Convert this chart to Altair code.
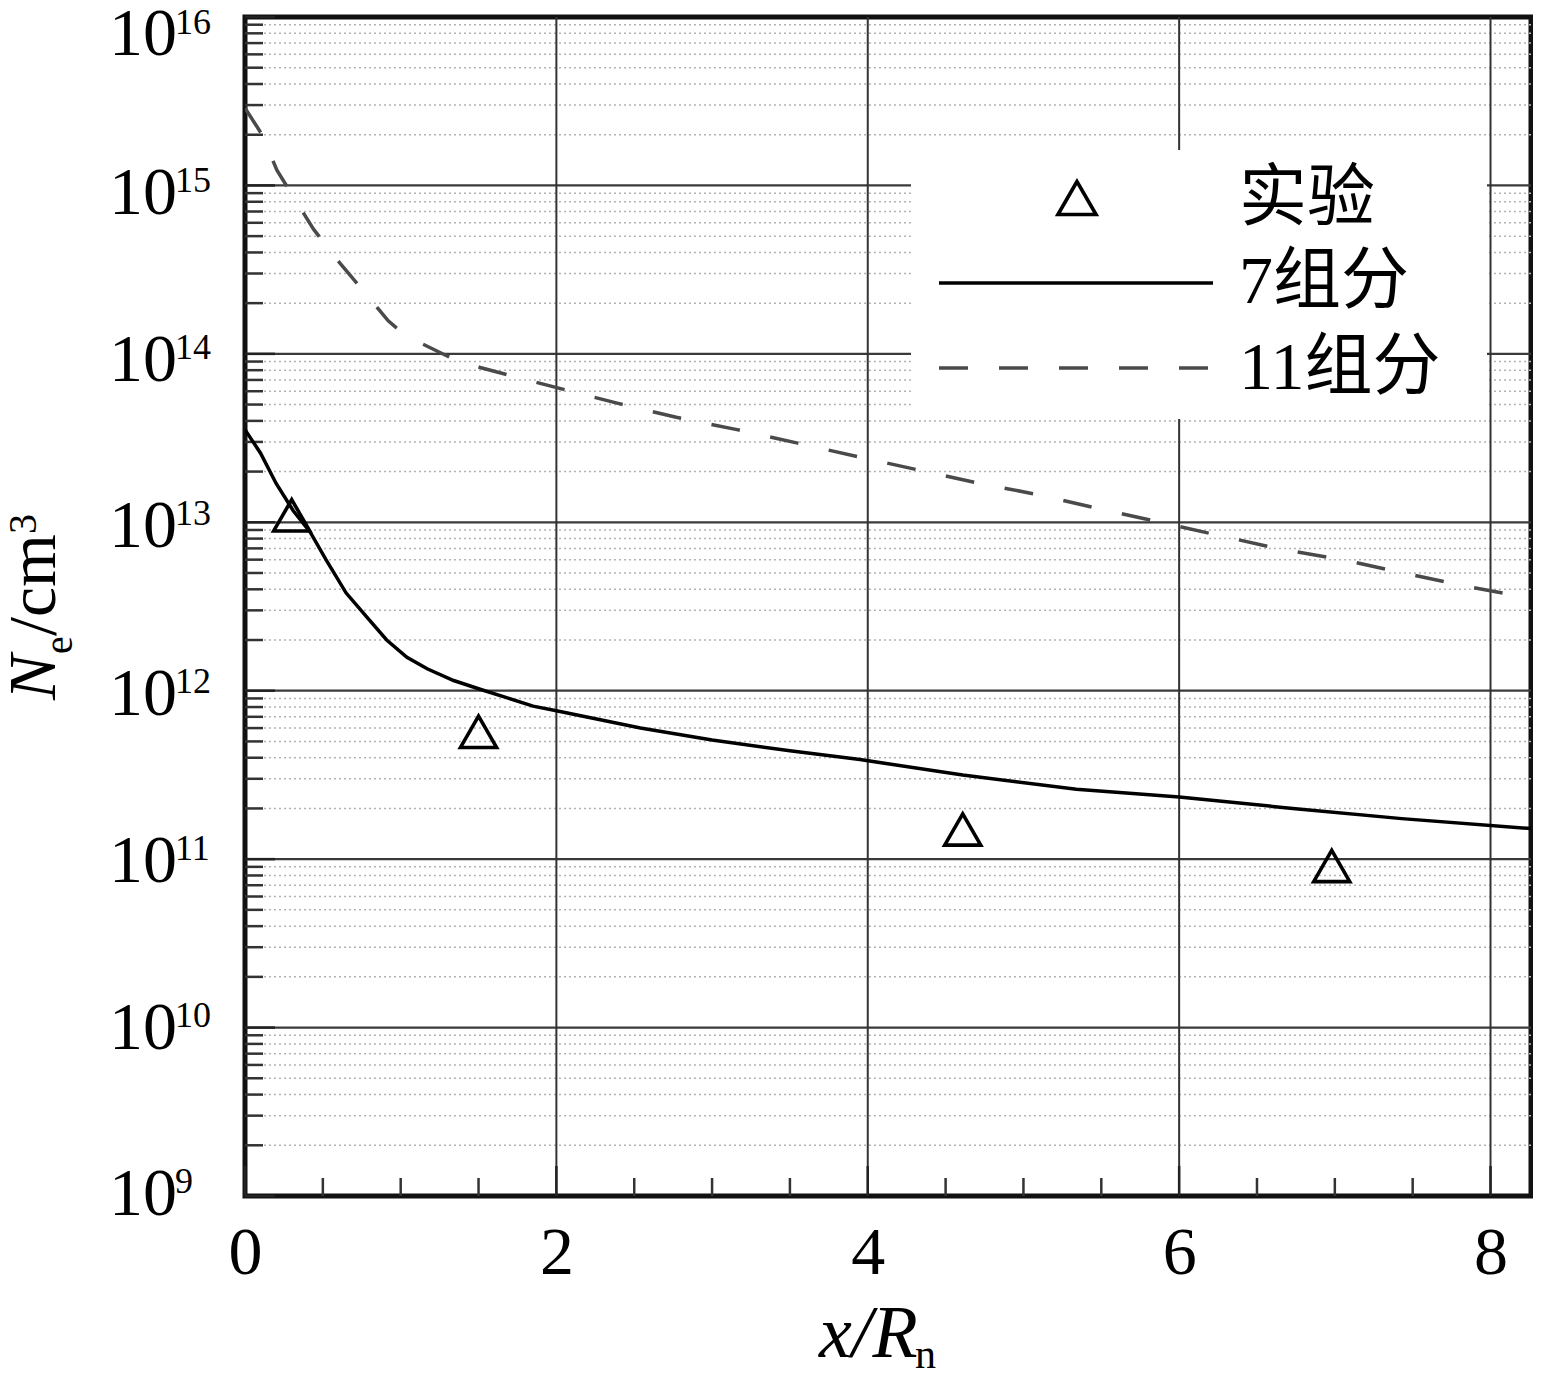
import altair as alt
import pandas as pd

# ---------------- data ----------------
x_solid = [0.0, 0.10, 0.20, 0.31, 0.42, 0.52, 0.65, 0.78, 0.91, 1.04, 1.17, 1.34, 1.51,
           1.68, 1.85, 2.0, 2.54, 3.0, 3.5, 3.95, 4.61, 5.34, 6.0, 6.73, 7.43, 8.3]
ne_solid = [3.55e13, 2.57e13, 1.70e13, 1.17e13, 8.7e12, 6.0e12, 3.8e12, 2.75e12, 2.0e12,
            1.58e12, 1.35e12, 1.15e12, 1.02e12, 9.1e11, 8.1e11, 7.6e11, 6.0e11, 5.1e11,
            4.4e11, 3.9e11, 3.16e11, 2.6e11, 2.34e11, 2.0e11, 1.74e11, 1.51e11]

x_dashed = [0.0, 0.11, 0.205, 0.32, 0.44, 0.59, 0.75, 0.92, 1.0, 1.12, 1.32, 1.51, 1.89,
            2.39, 2.77, 3.16, 3.55, 3.94, 4.33, 4.72, 5.11, 5.49, 5.88, 6.27, 6.66, 7.05,
            7.44, 7.83, 8.3]
ne_dashed = [2.88e15, 2.0e15, 1.23e15, 8.3e14, 5.5e14, 3.63e14, 2.43e14, 1.57e14, 1.36e14,
             1.17e14, 9.5e13, 8.3e13, 6.7e13, 5.1e13, 4.2e13, 3.55e13, 2.95e13, 2.45e13,
             2.04e13, 1.70e13, 1.45e13, 1.20e13, 1.0e13, 8.3e12, 6.9e12, 6.0e12, 5.0e12,
             4.2e12, 3.47e12]

x_exp = [0.30, 1.50, 4.61, 6.98]
ne_exp = [1.1e13, 5.7e11, 1.5e11, 9.1e10]

x_tick_labels = [0, 2, 4, 6, 8]
x_grid = [2, 4, 6, 8]
x_minor_ticks = [0.5, 1, 1.5, 2.5, 3, 3.5, 4.5, 5, 5.5, 6.5, 7, 7.5]
y_exponents = [9, 10, 11, 12, 13, 14, 15, 16]
legend_labels = ["实验", "7组分", "11组分"]

# ---------------- layout / style ----------------
W, H = 1286, 1179
SERIF = "Liberation Serif"
CJK = "Liberation Serif, Noto Sans CJK SC"

xscale = alt.Scale(domain=[0, 8.26], nice=False, zero=False)
yscale = alt.Scale(type="log", domain=[1e9, 1e16], nice=False)
xaxis = alt.Axis(values=x_tick_labels, title=None, grid=False, ticks=False, tickSize=0,
                 domain=False, labelFont=SERIF, labelFontSize=68, labelColor="black",
                 labelBaseline="alphabetic", labelPadding=77, labelFlush=False,
                 labelOverlap=False, format="d")


def X(f):
    return alt.X(f, type="quantitative", scale=xscale, axis=xaxis)


def Y(f):
    return alt.Y(f, type="quantitative", scale=yscale, axis=None)


y_major = [10.0 ** k for k in y_exponents]
y_minor = [m * 10.0 ** k for k in y_exponents[:-1] for m in range(2, 10)]

df_solid = pd.DataFrame({"x": x_solid, "ne": ne_solid})
df_dashed = pd.DataFrame({"x": x_dashed, "ne": ne_dashed})
df_exp = pd.DataFrame({"x": x_exp, "ne": ne_exp})

layers = []

# minor dotted horizontal gridlines
layers.append(alt.Chart(pd.DataFrame({"v": y_minor})).mark_rule(
    color="#b3b3b3", strokeWidth=1.5, strokeDash=[2, 3]).encode(y=Y("v")))
# major horizontal gridlines (decades)
layers.append(alt.Chart(pd.DataFrame({"v": y_major[1:-1]})).mark_rule(
    color="#3a3a3a", strokeWidth=2.2).encode(y=Y("v")))
# vertical gridlines
layers.append(alt.Chart(pd.DataFrame({"g": x_grid})).mark_rule(
    color="#333333", strokeWidth=2).encode(x=X("g")))

# legend background box
layers.append(alt.Chart(pd.DataFrame({"a": [0]})).mark_rect(fill="white").encode(
    x=alt.value(666), x2=alt.value(1242), y=alt.value(133), y2=alt.value(402)))

# inward ticks, x axis
layers.append(alt.Chart(pd.DataFrame({"t": x_tick_labels})).mark_rule(
    color="#222222", strokeWidth=2.5).encode(x=X("t"), y=alt.value(H), y2=alt.value(H - 30)))
layers.append(alt.Chart(pd.DataFrame({"t": x_minor_ticks})).mark_rule(
    color="#333333", strokeWidth=2.5).encode(x=X("t"), y=alt.value(H), y2=alt.value(H - 18)))
# inward ticks, y axis
layers.append(alt.Chart(pd.DataFrame({"t": y_major})).mark_rule(
    color="#222222", strokeWidth=2.5).encode(y=Y("t"), x=alt.value(0), x2=alt.value(30)))
layers.append(alt.Chart(pd.DataFrame({"t": y_minor})).mark_rule(
    color="#333333", strokeWidth=2.5).encode(y=Y("t"), x=alt.value(0), x2=alt.value(18)))

# curves
layers.append(alt.Chart(df_dashed).mark_line(
    color="#4a4a4a", strokeWidth=3.5, strokeDash=[29, 31], clip=True).encode(
    x=X("x"), y=Y("ne")))
layers.append(alt.Chart(df_solid).mark_line(
    color="black", strokeWidth=3.5, clip=True).encode(x=X("x"), y=Y("ne")))
# experiment points
layers.append(alt.Chart(df_exp).mark_point(
    shape="triangle-up", size=1300, filled=False, color="black", strokeWidth=3.6,
    opacity=1).encode(x=X("x"), y=Y("ne")))

# y tick labels 10^k  (baseline offsets below each decade line)
label_dy = {9: 19, 10: 21, 11: 22.5, 12: 24, 13: 25, 14: 27, 15: 29, 16: 38}
for k in y_exponents:
    d = pd.DataFrame({"v": [10.0 ** k], "base": ["10"], "exp": [str(k)]})
    dy_main = label_dy[k]
    dy_sup = max(dy_main - 22, 17) if k == 16 else dy_main - 22
    layers.append(alt.Chart(d).mark_text(
        align="right", baseline="alphabetic", dy=dy_main, font=SERIF, fontSize=68,
        color="black").encode(y=Y("v"), x=alt.value(-68), text="base:N"))
    layers.append(alt.Chart(d).mark_text(
        align="left", baseline="alphabetic", dy=dy_sup, font=SERIF, fontSize=36,
        color="black").encode(y=Y("v"), x=alt.value(-70), text="exp:N"))

# legend content
one = pd.DataFrame({"a": [0]})
layers.append(alt.Chart(one).mark_point(
    shape="triangle-up", size=1450, filled=False, color="black", strokeWidth=3.6,
    opacity=1).encode(x=alt.value(832), y=alt.value(181)))
layers.append(alt.Chart(one).mark_rule(color="black", strokeWidth=3.5).encode(
    x=alt.value(694), x2=alt.value(968), y=alt.value(266)))
layers.append(alt.Chart(one).mark_rule(color="#4a4a4a", strokeWidth=3.5,
                                       strokeDash=[29, 31]).encode(
    x=alt.value(694), x2=alt.value(968), y=alt.value(351)))
for lbl, ty in zip(legend_labels, [203, 286, 372]):
    layers.append(alt.Chart(pd.DataFrame({"label": [lbl]})).mark_text(
        align="left", baseline="alphabetic", font=CJK, fontSize=68, color="black").encode(
        x=alt.value(994), y=alt.value(ty), text="label:N"))


def txt(s, x, y, size, italic=False, angle=0):
    kw = dict(align="left", baseline="alphabetic", font=SERIF, fontSize=size, color="black")
    if italic:
        kw["fontStyle"] = "italic"
    if angle:
        kw["angle"] = angle
    return alt.Chart(pd.DataFrame({"s": [s]})).mark_text(**kw).encode(
        x=alt.value(x), y=alt.value(y), text="s:N")


# x title: x/R_n
layers.append(txt("x/R", 574, 1340, 74, italic=True))
layers.append(txt("n", 670, 1351, 42))
# y title: N_e/cm^3 (rotated)
layers.append(txt("N", -190, 683, 68, italic=True, angle=270))
layers.append(txt("e", -173, 637, 40, angle=270))
layers.append(txt("/cm", -190, 619, 68, angle=270))
layers.append(txt("3", -209, 517, 40, angle=270))

chart = alt.layer(*layers).properties(
    width=W, height=H,
    padding={"left": 237, "top": 9, "right": 2, "bottom": 190},
    autosize=alt.AutoSizeParams(type="none"),
    background="white",
).configure_view(stroke="#111111", strokeWidth=5)

chart.save("out.html", embed_options={"renderer": "svg", "actions": False})
